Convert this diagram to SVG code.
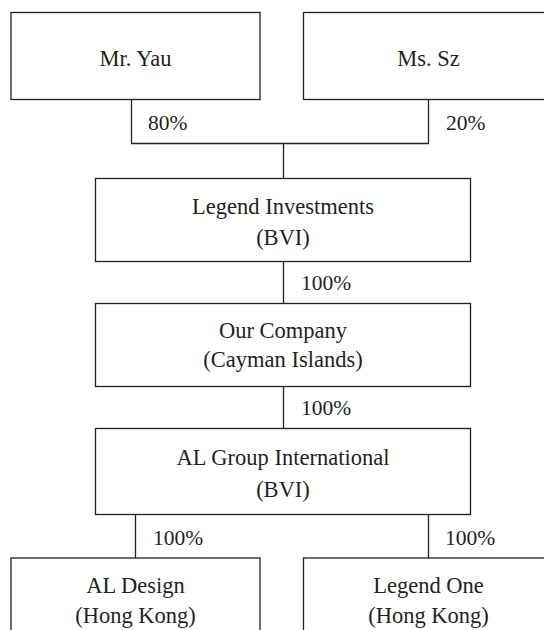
<svg xmlns="http://www.w3.org/2000/svg" width="544" height="630" viewBox="0 0 544 630">
<style>
.box{fill:#fff;stroke:#231f20;stroke-width:1.3}
.ln{fill:none;stroke:#231f20;stroke-width:1.3}
text{font-family:"Liberation Serif","Times New Roman",serif;font-size:22.5px;fill:#231f20}
.p{font-size:21.5px}
.c{text-anchor:middle}
</style>
<rect width="544" height="630" fill="#fff"/>
<g id="connectors">
<path class="ln" d="M131.5 99.5V143.5H428.5V99.5M283.5 143.5V178.5"/>
<path class="ln" d="M283.5 261.5V303.5"/>
<path class="ln" d="M283.5 386.5V428.5"/>
<path class="ln" d="M135.5 514.5V558M428.5 514.5V558"/>
<text class="p" x="148" y="130">80%</text>
<text class="p" x="446" y="130">20%</text>
<text class="p" x="301" y="290">100%</text>
<text class="p" x="301" y="415">100%</text>
<text class="p" x="153" y="545">100%</text>
<text class="p" x="445" y="545">100%</text>
</g>
<g id="mr-yau">
<rect class="box" x="11" y="12.5" width="249" height="87"/>
<text class="c" x="135.5" y="66">Mr. Yau</text>
</g>
<g id="ms-sz">
<rect class="box" x="303.5" y="12.5" width="250" height="87"/>
<text class="c" x="428.5" y="66">Ms. Sz</text>
</g>
<g id="legend-investments">
<rect class="box" x="95.5" y="178.5" width="375" height="83"/>
<text class="c" x="283" y="214">Legend Investments</text>
<text class="c" x="283" y="245">(BVI)</text>
</g>
<g id="our-company">
<rect class="box" x="95.5" y="303.5" width="375" height="83"/>
<text class="c" x="283" y="338">Our Company</text>
<text class="c" x="283" y="367">(Cayman Islands)</text>
</g>
<g id="al-group">
<rect class="box" x="95.5" y="428.5" width="375" height="86"/>
<text class="c" x="283" y="465">AL Group International</text>
<text class="c" x="283" y="497">(BVI)</text>
</g>
<g id="al-design">
<rect class="box" x="11" y="558" width="249" height="90"/>
<text class="c" x="135.5" y="593">AL Design</text>
<text class="c" x="135.5" y="623">(Hong Kong)</text>
</g>
<g id="legend-one">
<rect class="box" x="303.5" y="558" width="250" height="90"/>
<text class="c" x="428.5" y="593">Legend One</text>
<text class="c" x="428.5" y="623">(Hong Kong)</text>
</g>
</svg>
